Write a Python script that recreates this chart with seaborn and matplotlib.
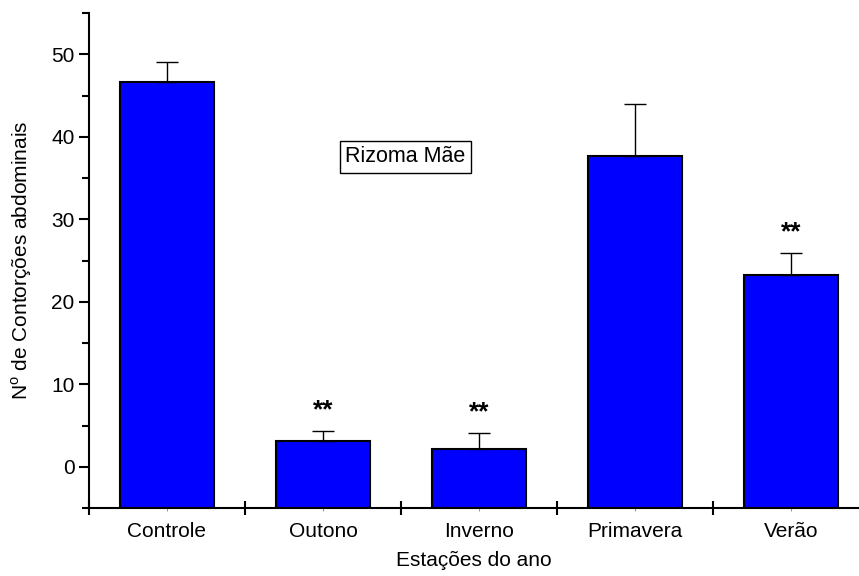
import numpy as np
import pandas as pd
import matplotlib
matplotlib.use("Agg")
import matplotlib.pyplot as plt
import seaborn as sns
from matplotlib.ticker import FixedLocator

# Data
estacoes = ["Controle", "Outono", "Inverno", "Primavera", "Verão"]
media = [46.7, 3.1, 2.1, 37.7, 23.2]
epm = [2.4, 1.2, 2.0, 6.3, 2.7]
signif = ["", "**", "**", "", "**"]

df = pd.DataFrame({"Estação": estacoes, "Contorções": media})

sns.set_style("ticks")
plt.rcParams["font.family"] = ["Liberation Sans", "DejaVu Sans"]
plt.rcParams["text.color"] = "black"
plt.rcParams["axes.labelcolor"] = "black"
plt.rcParams["xtick.color"] = "black"
plt.rcParams["ytick.color"] = "black"
plt.rcParams["axes.edgecolor"] = "black"

fig = plt.figure(figsize=(8.59, 5.76), dpi=100)
ax = fig.add_axes([0.1036, 0.118, 0.8964, 0.859])

sns.barplot(data=df, x="Estação", y="Contorções", color="#0000ff",
            saturation=1, edgecolor="black", linewidth=1.5, width=0.6,
            errorbar=None, ax=ax)

# bars start at the bottom of the axis (-5), like the original
y0 = -5
for p, m in zip(ax.patches, media):
    p.set_y(y0)
    p.set_height(m - y0)

x = np.arange(len(estacoes))
ax.errorbar(x, media, yerr=[np.zeros(len(epm)), epm], fmt="none",
            ecolor="black", elinewidth=1, capsize=8, capthick=1, zorder=1)

for xi, m, e, s in zip(x, media, epm, signif):
    if s:
        ax.text(xi, m + e + 2.5, s, ha="center", va="center", fontsize=19,
                fontweight="semibold")

ax.text(1.526, 37.6, "Rizoma Mãe", ha="center", va="center", fontsize=15.5,
        bbox=dict(boxstyle="square,pad=0.25", facecolor="white",
                  edgecolor="black", linewidth=1))

ax.set_ylim(-5, 55)
ax.set_xlim(-0.5, 4.436)
ax.yaxis.set_major_locator(FixedLocator([0, 10, 20, 30, 40, 50]))
ax.yaxis.set_minor_locator(FixedLocator([-5, 5, 15, 25, 35, 45, 55]))
ax.xaxis.set_minor_locator(FixedLocator([-0.5, 0.5, 1.5, 2.5, 3.5]))

ax.tick_params(axis="y", which="major", length=7, width=1.5, labelsize=15,
               direction="out")
ax.tick_params(axis="y", which="minor", length=5, width=1.5, direction="out")
ax.tick_params(axis="x", which="major", length=2, width=0.8, color="#999999",
               labelsize=15, direction="out", pad=8)
ax.tick_params(axis="x", which="minor", length=10, width=1.5, direction="inout")

for side in ["top", "right"]:
    ax.spines[side].set_visible(False)
for side in ["left", "bottom"]:
    ax.spines[side].set_linewidth(1.5)

ax.set_xlabel("Estações do ano", fontsize=15, labelpad=7)
ax.set_ylabel("N$^{\\mathregular{o}}$ de Contorções abdominais", fontsize=15,
              labelpad=12)

fig.savefig("out.png", dpi=100)
